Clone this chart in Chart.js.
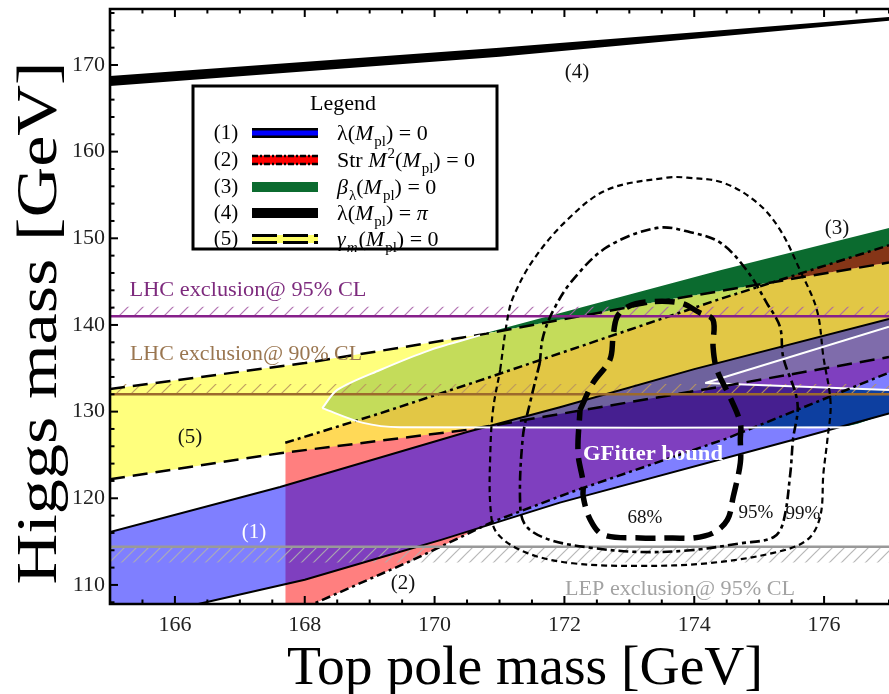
<!DOCTYPE html>
<html><head><meta charset="utf-8">
<script src="https://cdn.jsdelivr.net/npm/chart.js@4.4.1/dist/chart.umd.min.js"></script>
<style>html,body{margin:0;padding:0;background:#fff;}canvas{display:block;}</style>
</head><body>
<canvas id="c" width="889" height="694"></canvas>
<script>
// ---------- axes ----------
const X_MIN = 165, X_MAX = 177.0;
const Y_MIN = 107.8, Y_MAX = 176.46;
const xTickLabels = [166, 168, 170, 172, 174, 176];
const yTickLabels = [110, 120, 130, 140, 150, 160, 170];

// ---------- band boundaries  [top pole mass, Higgs mass] ----------
const lam4Upper   = [[165,168.73],[171,172.0],[177,175.55]];
const lam4Lower   = [[165,167.58],[171,170.96],[177,175.1]];
const blueUpper   = [[165,116.1],[167.62,121.3],[170.5,127.65],[171.93,130.5],[174,134.9],[177,140.7]];
const blueLower   = [[165,104.9],[166.36,107.8],[168,110.6],[169.05,112.9],[170.1,115.2],[171.93,119.5],[175.6,126.9],[177,129.8]];
const redUpper    = [[167.7,126.4],[169.16,129.8],[170.7,133.6],[174.4,143.0],[177,149.2]];
const redLower    = [[167.7,106.4],[168.13,107.8],[169.67,112.9],[170.9,117.3],[172.1,120.7],[174.5,126.9],[177,134.5]];
const yellowUpper = [[165,132.6],[168,135.6],[170.8,139.0],[173.6,142.9],[177,147.2]];
const yellowLower = [[165,122.2],[167.62,125.2],[170.5,127.9],[174.5,133.0],[177,136.3]];
const greenUpper  = [[170.7,138.9],[174.4,146.3],[177,151.2]];
// GFitter region
const gfitTop     = [[168.27,130.4],[168.5,132.5],[169.16,134.8],[169.93,137.1],[170.7,138.8],[173.6,142.9],[177,147.2]];
const gfitBottom  = [[168.27,130.4],[168.9,128.7],[169.47,128.2],[176.23,128.2],[177,129.8]];
const gfitEdgeTop = [[168.27,130.4],[168.5,132.5],[169.16,134.8],[169.93,137.1],[170.7,138.8]];
const gfitEdgeLow = [[168.27,130.4],[168.9,128.7],[169.47,128.2],[177,128.2]];
const wedgeUpper  = [[174.17,133.3],[177,139.8]];
const wedgeLower  = [[174.17,133.3],[177,132.5]];
// exclusion limits
const lhc95 = 141.0, lhc95Hatch = 142.1;
const lhc90 = 132.0, lhc90Hatch = 133.2;
const lep95 = 114.4, lep95Hatch = 112.6;
// fit contours (closed curves)
const c68 = [[172.24,130.19],[172.44,133.31],[172.70,135.96],[172.75,138.62],[172.81,140.92],[172.97,142.08],[173.27,142.65],[173.78,142.54],[174.09,141.39],[174.29,140.58],[174.29,137.46],[174.35,134.81],[174.55,131.69],[174.71,128.69],[174.71,126.73],[174.71,124.08],[174.60,120.16],[174.51,117.5],[174.29,116.0],[173.98,115.42],[173.67,115.42],[173.17,115.42],[172.60,115.77],[172.40,117.5],[172.29,120.16],[172.29,121.77],[172.21,125.23],[172.24,130.19]];
const c95 = [[171.62,135.6],[171.67,138.6],[171.83,141.7],[172.13,145.2],[172.66,149.0],[173.43,151.2],[173.94,150.7],[174.40,149.5],[174.81,146.3],[175.12,142.5],[175.32,139.8],[175.37,136.3],[175.59,131.0],[175.52,126.7],[175.48,122.9],[175.37,117.2],[175.22,115.5],[174.71,114.8],[173.94,114.0],[173.17,113.8],[172.40,114.3],[171.78,115.2],[171.42,116.7],[171.32,119.0],[171.36,127.1],[171.47,131.0],[171.62,135.6]];
const c99 = [[171.01,134.8],[171.12,140.6],[171.21,143.2],[171.52,147.5],[172.04,152.1],[172.66,155.6],[173.58,157.0],[173.89,157.0],[174.45,156.4],[174.97,154.1],[175.32,151.0],[175.63,146.3],[175.89,141.7],[175.99,136.3],[176.1,131.0],[176.05,126.7],[175.99,122.9],[175.94,117.9],[175.74,115.2],[175.22,113.7],[174.2,112.5],[173.17,112.2],[172.13,112.5],[171.42,113.7],[170.96,116.0],[170.86,119.0],[170.86,125.6],[170.9,130.2],[171.01,134.8]];

// ---------- text ----------
const legendRows = [
  {n:'(1)', segs:[['λ',''],['(',''],['M','i'],['pl','sub'],[')',''],[' = 0','']]},
  {n:'(2)', segs:[['Str ',''],['M','i'],['2','sup'],['(',''],['M','i'],['pl','sub'],[')',''],[' = 0','']]},
  {n:'(3)', segs:[['β','i'],['λ','sub'],['(',''],['M','i'],['pl','sub'],[')',''],[' = 0','']]},
  {n:'(4)', segs:[['λ',''],['(',''],['M','i'],['pl','sub'],[')',''],[' = ',''],['π','i']]},
  {n:'(5)', segs:[['γ','i'],['m','isub'],['(',''],['M','i'],['pl','sub'],[')',''],[' = 0','']]}
];

const SERIF = '"Liberation Serif", "DejaVu Serif", serif';
Chart.defaults.font.family = SERIF;

const P = a => a.map(([x,y]) => ({x, y}));
const flat = v => [[X_MIN, v], [X_MAX, v]];
const T = 'rgba(0,0,0,0)';
function ds(arr, o) {
  return Object.assign({data: P(arr), borderWidth: 0, borderColor: T, backgroundColor: T,
    pointRadius: 0, pointHoverRadius: 0, fill: false, tension: 0, order: 0}, o);
}
function hatch(color, period, lw) {
  const c = document.createElement('canvas'); c.width = period; c.height = period;
  const g = c.getContext('2d'); g.strokeStyle = color; g.lineWidth = lw;
  const seg = (x0,y0,x1,y1) => { g.beginPath(); g.moveTo(x0,y0); g.lineTo(x1,y1); g.stroke(); };
  seg(-2, period+2, period+2, -2); seg(-2, 2, 2, -2); seg(period-2, period+2, period+2, period-2);
  return g.createPattern(c, 'repeat');
}
const hatch95 = hatch('rgba(170,100,170,0.9)', 15, 1.2);
const hatch90 = hatch('rgba(185,150,95,0.9)', 15, 1.2);
const hatchLEP = hatch('rgba(175,175,175,0.9)', 12, 1.2);

const G_UP = 'rgb(58,138,137)', G_LOW = 'rgb(26,126,65)';
const YELLOW = 'rgba(255,255,70,0.7)', RED = 'rgba(255,0,0,0.5)', BLUE = 'rgba(0,0,255,0.5)', GREEN = 'rgb(11,107,47)';
const DASH_Y = [15, 8], DASH_R = [9, 4, 3, 4];

const datasets = [
  /*0*/ ds(gfitTop,   {fill:{target:1, above:G_UP, below:G_UP}, tension:0.3, order:30}),
  /*1*/ ds(gfitBottom,{tension:0.3, order:30}),
  /*2*/ ds(blueUpper.filter(p => p[0] >= 170.5), {fill:{target:1, above:G_LOW, below:T}, order:29}),
  /*3*/ ds(wedgeUpper,{fill:{target:4, above:'#fff', below:'#fff'}, borderColor:'#fff', borderWidth:2, order:28}),
  /*4*/ ds(wedgeLower,{borderColor:'#fff', borderWidth:2, order:28}),
  /*5*/ ds(greenUpper,{fill:{target:8, above:GREEN, below:T}, order:27}),
  /*6*/ ds(redUpper,  {fill:{target:7, above:RED, below:RED}, borderColor:'#000', borderWidth:2.5, borderDash:DASH_R, order:26}),
  /*7*/ ds(redLower,  {borderColor:'#000', borderWidth:2.5, borderDash:DASH_R, order:26}),
  /*8*/ ds(yellowUpper,{fill:{target:9, above:YELLOW, below:YELLOW}, borderColor:'#000', borderWidth:2.5, borderDash:DASH_Y, order:25}),
  /*9*/ ds(yellowLower,{borderColor:'#000', borderWidth:2.5, borderDash:DASH_Y, order:25}),
  /*10*/ ds(blueUpper, {fill:{target:11, above:BLUE, below:BLUE}, borderColor:'#000', borderWidth:2, order:24}),
  /*11*/ ds(blueLower, {borderColor:'#000', borderWidth:2, order:24}),
  /*12*/ ds(lam4Upper, {fill:{target:13, above:'#000', below:'#000'}, order:23}),
  /*13*/ ds(lam4Lower, {order:23}),
  /*14*/ ds(flat(lhc95Hatch), {fill:15, backgroundColor:hatch95, order:22}),
  /*15*/ ds(flat(lhc95), {borderColor:'#86208a', borderWidth:2.5, order:22}),
  /*16*/ ds(flat(lhc90Hatch), {fill:17, backgroundColor:hatch90, order:22}),
  /*17*/ ds(flat(lhc90), {borderColor:'#9c6a2c', borderWidth:2.5, order:22}),
  /*18*/ ds(flat(lep95Hatch), {fill:19, backgroundColor:hatchLEP, order:22}),
  /*19*/ ds(flat(lep95), {borderColor:'#999999', borderWidth:2.5, order:22}),
  /*20*/ ds(gfitEdgeTop, {borderColor:'#fff', borderWidth:2, tension:0.3, order:5}),
  /*21*/ ds(gfitEdgeLow, {borderColor:'#fff', borderWidth:2, tension:0.3, order:5}),
  /*22*/ ds(c99, {borderColor:'#000', borderWidth:2.2, borderDash:[6,4], tension:0.35, order:1}),
  /*23*/ ds(c95, {borderColor:'#000', borderWidth:2.6, borderDash:[10,4,4,4], tension:0.35, order:1}),
  /*24*/ ds(c68, {borderColor:'#000', borderWidth:5.5, borderDash:[20,9], tension:0.35, order:1})
];

function fitText(ctx, text, cx, cy, width, font, color, rot) {
  ctx.save();
  ctx.font = font; ctx.fillStyle = color; ctx.textAlign = 'center'; ctx.textBaseline = 'alphabetic';
  const w = ctx.measureText(text).width;
  ctx.translate(cx, cy);
  if (rot) ctx.rotate(rot);
  ctx.scale(width / w, 1);
  ctx.fillText(text, 0, 0);
  ctx.restore();
}
function label(ctx, text, cx, cy, size, color, bold) {
  ctx.save();
  ctx.font = (bold ? 'bold ' : '') + size + 'px ' + SERIF;
  ctx.fillStyle = color; ctx.textAlign = 'center'; ctx.textBaseline = 'middle';
  ctx.fillText(text, cx, cy);
  ctx.restore();
}
function rich(ctx, segs, x, y, size) {
  let cx = x;
  for (const [t, st] of segs) {
    let fs = size, dy = 0, it = (st === 'i' || st === 'isub');
    if (st === 'sub' || st === 'isub') { fs = size * 0.68; dy = size * 0.28; }
    if (st === 'sup') { fs = size * 0.68; dy = -size * 0.4; }
    ctx.font = (it ? 'italic ' : '') + fs.toFixed(1) + 'px ' + SERIF;
    ctx.fillText(t, cx, y + dy);
    cx += ctx.measureText(t).width + (it ? 1 : 0);
  }
}

const decor = {
  id: 'decor',
  afterDraw(chart) {
    const ctx = chart.ctx, a = chart.chartArea, xs = chart.scales.x, ys = chart.scales.y;
    ctx.save();
    // frame (right edge falls outside the picture)
    ctx.strokeStyle = '#000'; ctx.lineWidth = 2.6;
    ctx.beginPath();
    ctx.moveTo(a.right + 2, a.top); ctx.lineTo(a.left, a.top); ctx.lineTo(a.left, a.bottom); ctx.lineTo(a.right + 2, a.bottom);
    ctx.stroke();
    // inward ticks
    ctx.lineWidth = 2;
    for (let v = X_MIN; v <= X_MAX + 1e-6; v += 0.5) {
      const px = xs.getPixelForValue(v), L = xTickLabels.includes(v) ? 8 : 4.5;
      ctx.beginPath(); ctx.moveTo(px, a.bottom); ctx.lineTo(px, a.bottom - L);
      ctx.moveTo(px, a.top); ctx.lineTo(px, a.top + L); ctx.stroke();
    }
    for (let v = 108; v <= 176; v += 2) {
      const py = ys.getPixelForValue(v), L = yTickLabels.includes(v) ? 8 : 4.5;
      ctx.beginPath(); ctx.moveTo(a.left, py); ctx.lineTo(a.left + L, py); ctx.stroke();
    }
    // axis titles
    fitText(ctx, 'Top pole mass [GeV]', 525, 684, 476, '54px ' + SERIF, '#000');
    fitText(ctx, 'Higgs mass [GeV]', 56, 323, 523, '58px ' + SERIF, '#000', -Math.PI / 2);
    // region labels
    label(ctx, '(4)', 577, 72, 21, '#111');
    label(ctx, '(3)', 837, 228, 21, '#111');
    label(ctx, '(5)', 190, 437, 21, '#111');
    label(ctx, '(1)', 254, 532, 21, '#fff');
    label(ctx, '(2)', 403, 583, 21, '#111');
    label(ctx, '68%', 645, 518, 19, '#111');
    label(ctx, '95%', 756, 513, 19, '#111');
    label(ctx, '99%', 803, 514, 19, '#111');
    fitText(ctx, 'LHC exclusion@ 95% CL', 248, 296, 237, '22px ' + SERIF, '#7d2a7d');
    fitText(ctx, 'LHC exclusion@ 90% CL', 246, 360, 232, '22px ' + SERIF, '#9a7650');
    fitText(ctx, 'LEP exclusion@ 95% CL', 680, 595, 230, '22px ' + SERIF, '#a3a3a3');
    fitText(ctx, 'GFitter bound', 653, 460, 140, 'bold 21px ' + SERIF, '#fff');
    // legend
    const bx = 193, by = 86, bw = 304, bh = 163;
    ctx.fillStyle = '#fff'; ctx.fillRect(bx, by, bw, bh);
    ctx.strokeStyle = '#000'; ctx.lineWidth = 3; ctx.strokeRect(bx, by, bw, bh);
    label(ctx, 'Legend', 343, 104, 22, '#000');
    const rowsY = [133, 160, 187, 213, 239];
    const sx = 252, sw = 66;
    legendRows.forEach((r, i) => {
      const y = rowsY[i];
      label(ctx, r.n, 226, y, 21, '#000');
      ctx.setLineDash([]);
      if (i === 0) { ctx.fillStyle = '#000'; ctx.fillRect(sx, y - 5, sw, 10); ctx.fillStyle = '#0000ff'; ctx.fillRect(sx, y - 2.5, sw, 5); }
      if (i === 1) {
        ctx.fillStyle = '#ff0000'; ctx.fillRect(sx, y - 4.5, sw, 9);
        ctx.strokeStyle = '#000'; ctx.lineWidth = 2.5; ctx.setLineDash([6, 2, 2, 2]);
        ctx.beginPath(); ctx.moveTo(sx, y - 4); ctx.lineTo(sx + sw, y - 4); ctx.moveTo(sx, y + 4); ctx.lineTo(sx + sw, y + 4); ctx.stroke();
        ctx.setLineDash([]);
      }
      if (i === 2) { ctx.fillStyle = GREEN; ctx.fillRect(sx, y - 5, sw, 10); }
      if (i === 3) { ctx.fillStyle = '#000'; ctx.fillRect(sx, y - 5, sw, 10); }
      if (i === 4) {
        ctx.fillStyle = '#ffff66'; ctx.fillRect(sx, y - 4, sw, 8);
        ctx.strokeStyle = '#000'; ctx.lineWidth = 3; ctx.setLineDash([25, 6]);
        ctx.beginPath(); ctx.moveTo(sx, y - 3.5); ctx.lineTo(sx + sw, y - 3.5); ctx.moveTo(sx, y + 3.5); ctx.lineTo(sx + sw, y + 3.5); ctx.stroke();
        ctx.setLineDash([]);
      }
      ctx.fillStyle = '#000'; ctx.textAlign = 'left'; ctx.textBaseline = 'alphabetic';
      rich(ctx, r.segs, 337, y + 7, 22);
    });
    ctx.restore();
  }
};

new Chart(document.getElementById('c'), {
  type: 'line',
  data: {datasets},
  options: {
    responsive: false, animation: false, devicePixelRatio: 1,
    layout: {padding: {top: 9, left: 0, right: 0, bottom: 0}},
    plugins: {legend: {display: false}, tooltip: {enabled: false}, title: {display: false},
      filler: {drawTime: 'beforeDatasetsDraw', propagate: false}},
    elements: {line: {capBezierPoints: false}},
    scales: {
      x: {type: 'linear', min: X_MIN, max: X_MAX,
        afterBuildTicks: s => { s.ticks = xTickLabels.map(v => ({value: v})); },
        afterFit: s => { s.height = 90; s.paddingLeft = 0; s.paddingRight = 0; },
        grid: {display: false, drawTicks: false}, border: {display: false},
        ticks: {padding: 8, color: '#222', font: {size: 22, family: SERIF}, maxRotation: 0, autoSkip: false}},
      y: {type: 'linear', min: Y_MIN, max: Y_MAX,
        afterBuildTicks: s => { s.ticks = yTickLabels.map(v => ({value: v})); },
        afterFit: s => { s.width = 110; s.paddingTop = 0; s.paddingBottom = 0; },
        grid: {display: false, drawTicks: false}, border: {display: false},
        ticks: {padding: 5, color: '#222', font: {size: 22, family: SERIF}, autoSkip: false}}
    }
  },
  plugins: [decor]
});
</script>
</body></html>
